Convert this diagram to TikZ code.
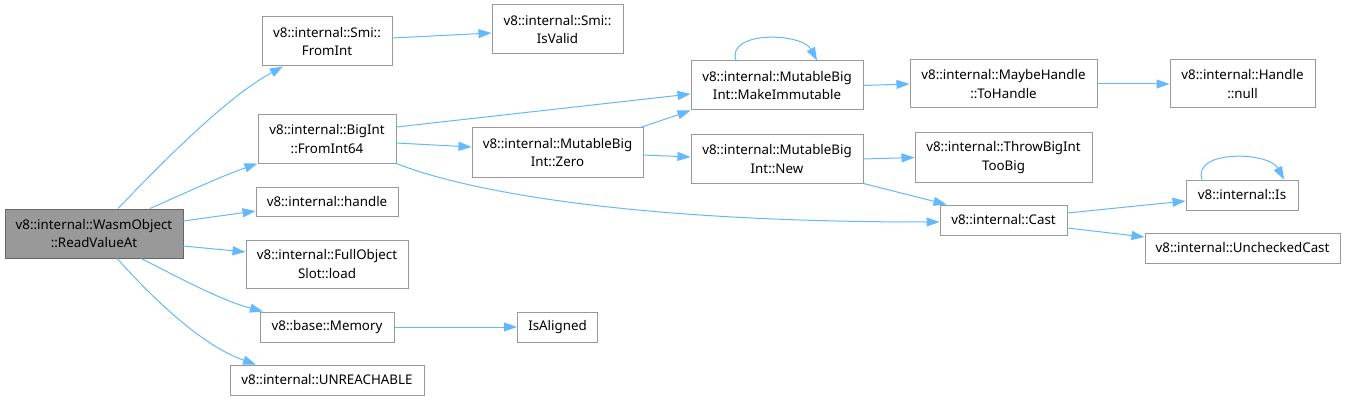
\documentclass[tikz,border=0pt]{standalone}
\usepackage{fontspec}
\setmainfont{Noto Sans}
\usetikzlibrary{arrows.meta}
\definecolor{edgeblue}{HTML}{63B8FF}
\definecolor{boxgray}{HTML}{999999}
\definecolor{boxdark}{HTML}{666666}
\tikzset{
	fn/.style={draw=boxgray, fill=white, line width=1pt, align=center, inner sep=0pt, font=\fontsize{13.33}{18.7}\selectfont},
	focus/.style={fn, draw=boxdark, fill=boxgray},
	call/.style={draw=edgeblue, line width=1pt, -{Triangle[length=13pt,width=9pt]}}
}
\begin{document}
\begin{tikzpicture}[x=1pt,y=-1pt]
	\useasboundingbox (0,0) rectangle (1346,401);
	\node[focus, minimum width=178pt, minimum height=49pt] (main) at (94,233.5) {v8::internal::WasmObject\\::ReadValueAt};
	\node[fn, minimum width=130pt, minimum height=49pt] (fromint) at (327,41.5) {v8::internal::Smi::\\FromInt};
	\node[fn, minimum width=138pt, minimum height=48pt] (fromint64) at (327,139) {v8::internal::BigInt\\::FromInt64};
	\node[fn, minimum width=142pt, minimum height=29pt] (handle) at (327,201.5) {v8::internal::handle};
	\node[fn, minimum width=162pt, minimum height=48pt] (slotload) at (327,264) {v8::internal::FullObject\\Slot::load};
	\node[fn, minimum width=134pt, minimum height=30pt] (memory) at (327,327) {v8::base::Memory};
	\node[fn, minimum width=194pt, minimum height=30pt] (unreachable) at (327,380) {v8::internal::UNREACHABLE};
	\node[fn, minimum width=131pt, minimum height=49pt] (isvalid) at (557.5,29.5) {v8::internal::Smi::\\IsValid};
	\node[fn, minimum width=171pt, minimum height=49pt] (zero) at (557.5,152.5) {v8::internal::MutableBig\\Int::Zero};
	\node[fn, minimum width=80pt, minimum height=30pt] (isaligned) at (557.5,327) {IsAligned};
	\node[fn, minimum width=172pt, minimum height=49pt] (immutable) at (777,85.5) {v8::internal::MutableBig\\Int::MakeImmutable};
	\node[fn, minimum width=172pt, minimum height=48pt] (new) at (777,159) {v8::internal::MutableBig\\Int::New};
	\node[fn, minimum width=187pt, minimum height=48pt] (tohandle) at (1003.5,84) {v8::internal::MaybeHandle\\::ToHandle};
	\node[fn, minimum width=177pt, minimum height=49pt] (throw) at (1003.5,157.5) {v8::internal::ThrowBigInt\\TooBig};
	\node[fn, minimum width=127pt, minimum height=30pt] (cast) at (1003.5,220) {v8::internal::Cast};
	\node[fn, minimum width=145pt, minimum height=48pt] (null) at (1242.5,84) {v8::internal::Handle\\::null};
	\node[fn, minimum width=112pt, minimum height=30pt] (is) at (1242,195) {v8::internal::Is};
	\node[fn, minimum width=195pt, minimum height=30pt] (unchecked) at (1242.5,248) {v8::internal::UncheckedCast};
	\draw[call] ([xshift=24pt]main.north) .. controls (160,165) and (225,98) .. ([xshift=-44pt]fromint.south);
	\draw[call] ([xshift=56pt]main.north) .. controls (185,193) and (222,176) .. (fromint64.south west);
	\draw[call] ([yshift=12.5pt]main.east) -- ([yshift=-9.5pt]handle.west);
	\draw[call] ([yshift=-12.5pt]main.east) -- ([yshift=12pt]slotload.west);
	\draw[call] ([xshift=47pt]main.south) .. controls (180,278) and (220,300) .. ([xshift=-64pt]memory.north);
	\draw[call] ([xshift=23pt]main.south) .. controls (150,295) and (200,345) .. ([xshift=-71pt]unreachable.north);
	\draw[call] ([yshift=3.5pt]fromint.east) -- ([yshift=-3.5pt]isvalid.west);
	\draw[call] ([yshift=12pt]fromint64.east) -- ([yshift=-8.5pt]immutable.west);
	\draw[call] ([yshift=-4pt]fromint64.east) -- ([yshift=5.5pt]zero.west);
	\draw[call] (fromint64.south east) .. controls (450,185) and (600,222) .. ([yshift=-2pt]cast.west);
	\draw[call] (memory.east) -- (isaligned.west);
	\draw[call] ([xshift=-3pt]zero.north east) -- (immutable.south west);
	\draw[call] ([yshift=-2.5pt]zero.east) -- ([yshift=2pt]new.west);
	\draw[call] ([xshift=-41pt]immutable.north) .. controls +(-10,-30) and +(-15,-28) .. ([xshift=40pt]immutable.north);
	\draw[call] (immutable.east) -- (tohandle.west);
	\draw[call] (tohandle.east) -- (null.west);
	\draw[call] (new.east) -- (throw.west);
	\draw[call] (new.south east) -- ([xshift=7pt]cast.north west);
	\draw[call] ([yshift=7pt]cast.east) -- ([yshift=-6pt]is.west);
	\draw[call] ([yshift=-8pt]cast.east) -- ([yshift=11pt]unchecked.west);
	\draw[call] ([xshift=-40pt]is.north) .. controls +(-10,-30) and +(-15,-28) .. ([xshift=42pt]is.north);
\end{tikzpicture}
\end{document}
